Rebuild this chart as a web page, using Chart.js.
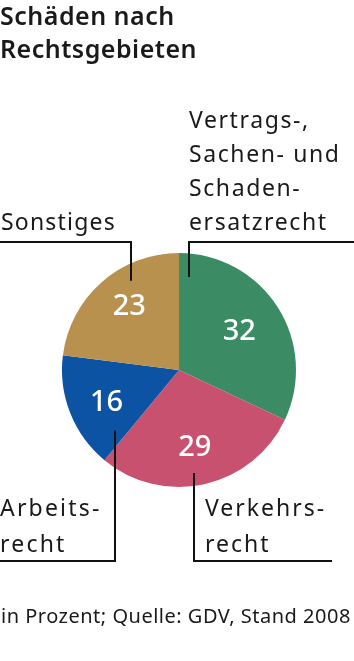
<!DOCTYPE html>
<html>
<head>
<meta charset="utf-8">
<script src="https://cdn.jsdelivr.net/npm/chart.js@4"></script>
<style>
  html, body { margin: 0; padding: 0; background: #fff; }
  #wrap { width: 354px; height: 661px; position: relative; }
</style>
</head>
<body>
<div id="wrap"><canvas id="pieChart"></canvas></div>
<script>
// data (in Prozent), clockwise from 12 o'clock
const categories = [
  "Vertrags-, Sachen- und Schadenersatzrecht",
  "Verkehrsrecht",
  "Arbeitsrecht",
  "Sonstiges"
];
const shares = [32, 29, 16, 23];
const colors = ["#3b8c64", "#c8516f", "#0c54a3", "#b9914f"];

const titleLines = ["Schäden nach", "Rechtsgebieten"];
const footNote = "in Prozent; Quelle: GDV, Stand 2008";

// label text per slice, split the way the graphic does it
const labelLines = [
  ["Vertrags-,", "Sachen- und", "Schaden-", "ersatzrecht"],
  ["Verkehrs-", "recht"],
  ["Arbeits-", "recht"],
  ["Sonstiges"]
];

const FONT = "'Noto Sans', sans-serif";

// where each leader line touches its slice: fraction of the slice angle, fraction of radius
const anchors = [
  { t: 0.055, r: 0.80 },
  { t: 0.54, r: 0.89 },
  { t: 0.12, r: 0.75 },
  { t: 0.66, r: 0.865 }
];
// label boxes: y of the horizontal rule, text x, first baseline, the rule's far end
const labelBoxes = [
  { lineY: 242, textX: 189, firstBase: 128, step: 34, lineEnd: 354, spacing: 1.6 },
  { lineY: 561, textX: 205, firstBase: 516, step: 36, lineEnd: 332, spacing: 2 },
  { lineY: 561, textX: 0, firstBase: 516, step: 36, lineEnd: 0, spacing: 2.2 },
  { lineY: 242, textX: 1, firstBase: 230, step: 34, lineEnd: 0, spacing: 1.2 }
];
// position of the white numbers inside the slices (radius fraction, angle shift)
const valuePos = [
  { r: 0.61, shift: 0 },
  { r: 0.68, shift: 0.02 },
  { r: 0.68, shift: -0.05 },
  { r: 0.69, shift: 0.06 }
];

const annotations = {
  id: "annotations",
  afterDraw(chart) {
    const ctx = chart.ctx;
    const meta = chart.getDatasetMeta(0);
    ctx.save();

    // title
    ctx.fillStyle = "#1a1a1a";
    ctx.font = "600 25px " + FONT;
    ctx.textBaseline = "alphabetic";
    ctx.textAlign = "left";
    ctx.letterSpacing = "0.5px";
    ctx.fillText(titleLines[0], 0, 25);
    ctx.fillText(titleLines[1], 0, 58);
    ctx.letterSpacing = "0px";

    meta.data.forEach((arc, i) => {
      const { x, y, startAngle, endAngle, outerRadius } = arc.getProps(
        ["x", "y", "startAngle", "endAngle", "outerRadius"], true);

      // value inside slice
      const pos = valuePos[i];
      const mid = (startAngle + endAngle) / 2 + pos.shift;
      const vx = x + Math.cos(mid) * outerRadius * pos.r;
      const vy = y + Math.sin(mid) * outerRadius * pos.r;
      ctx.fillStyle = "#ffffff";
      ctx.font = "500 29px " + FONT;
      ctx.textAlign = "center";
      ctx.textBaseline = "middle";
      ctx.fillText(String(shares[i]), vx, vy);

      // leader line
      const a = anchors[i];
      const ang = startAngle + (endAngle - startAngle) * a.t;
      const ax = x + Math.cos(ang) * outerRadius * a.r;
      const ay = y + Math.sin(ang) * outerRadius * a.r;
      const box = labelBoxes[i];
      ctx.strokeStyle = "#111111";
      ctx.lineWidth = 2;
      ctx.beginPath();
      ctx.moveTo(Math.round(ax), ay);
      ctx.lineTo(Math.round(ax), box.lineY);
      ctx.lineTo(box.lineEnd, box.lineY);
      ctx.stroke();

      // label text
      ctx.fillStyle = "#1a1a1a";
      ctx.font = "400 23px " + FONT;
      ctx.textAlign = "left";
      ctx.textBaseline = "alphabetic";
      ctx.letterSpacing = box.spacing + "px";
      labelLines[i].forEach((line, k) => {
        ctx.fillText(line, box.textX, box.firstBase + k * box.step);
      });
      ctx.letterSpacing = "0px";
    });

    // footnote
    ctx.fillStyle = "#1a1a1a";
    ctx.font = "400 20px " + FONT;
    ctx.textAlign = "left";
    ctx.textBaseline = "alphabetic";
    ctx.letterSpacing = "0.5px";
    ctx.fillText(footNote, 1, 623);
    ctx.letterSpacing = "0px";

    ctx.restore();
  }
};

const ctx = document.getElementById("pieChart").getContext("2d");
const chart = new Chart(ctx, {
  type: "pie",
  data: {
    labels: categories,
    datasets: [{
      data: shares,
      backgroundColor: colors,
      borderWidth: 0
    }]
  },
  options: {
    responsive: true,
    maintainAspectRatio: false,
    animation: false,
    rotation: 0,
    layout: { padding: { left: 62, right: 58, top: 253, bottom: 174 } },
    plugins: {
      legend: { display: false },
      tooltip: { enabled: false }
    }
  },
  plugins: [annotations]
});
</script>
</body>
</html>
